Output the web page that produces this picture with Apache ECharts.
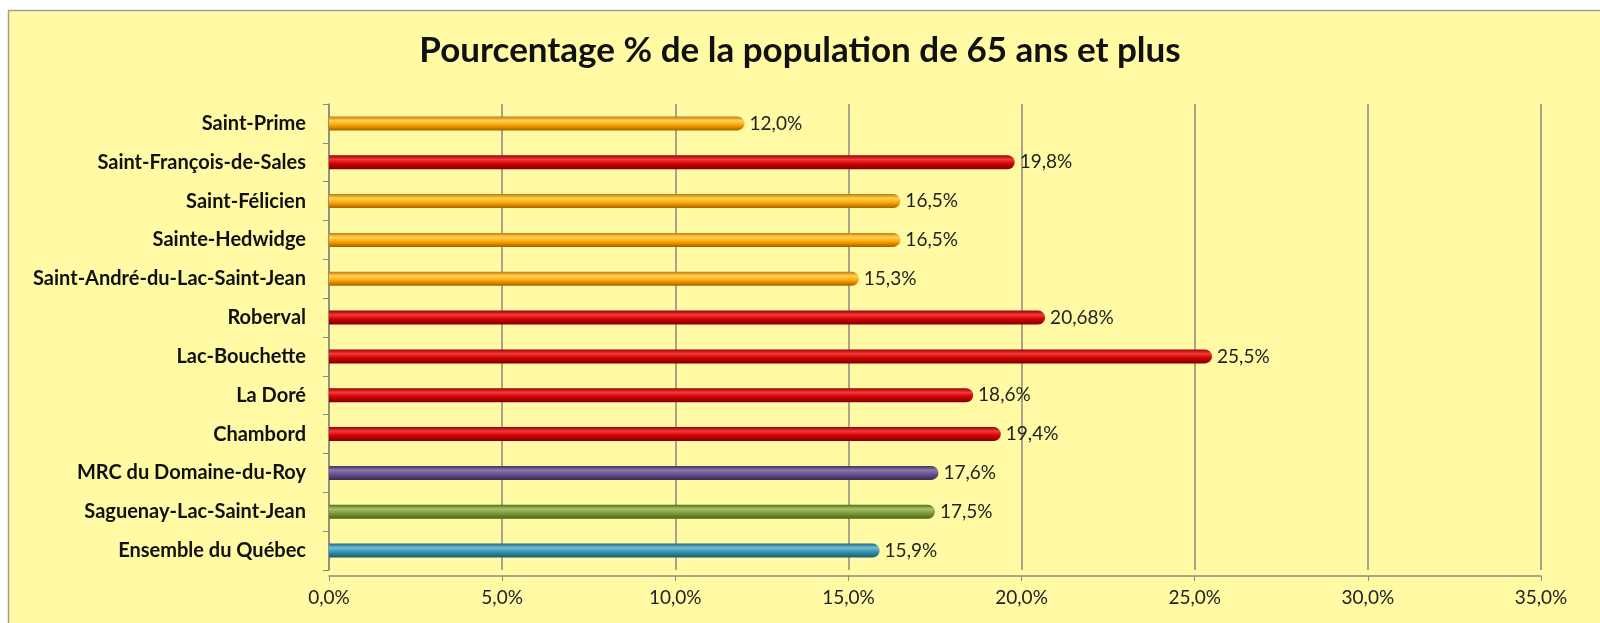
<!DOCTYPE html>
<html>
<head>
<meta charset="utf-8">
<script src="https://cdn.jsdelivr.net/npm/echarts@6/dist/echarts.min.js"></script>
<style>
html,body{margin:0;padding:0;background:#ffffff;}
#chart{width:1600px;height:623px;}
</style>
</head>
<body>
<div id="chart"></div>
<script>
// Data (top to bottom as displayed)
const categories = [
  'Saint-Prime',
  'Saint-François-de-Sales',
  'Saint-Félicien',
  'Sainte-Hedwidge',
  'Saint-André-du-Lac-Saint-Jean',
  'Roberval',
  'Lac-Bouchette',
  'La Doré',
  'Chambord',
  'MRC du Domaine-du-Roy',
  'Saguenay-Lac-Saint-Jean',
  'Ensemble du Québec'
];
const values = [12.0, 19.8, 16.5, 16.5, 15.3, 20.68, 25.5, 18.6, 19.4, 17.6, 17.5, 15.9];
const groups = ['o','r','o','o','o','r','r','r','r','p','g','b'];
const xTicks = [0, 5, 10, 15, 20, 25, 30, 35];

// Styles
const palette = {
  o: ['#c77a00', '#ffd25a', '#ffa800', '#a86200'],
  r: ['#9a0000', '#f03a3a', '#d40000', '#7a0000'],
  p: ['#3f2f5c', '#8d79ad', '#66508a', '#3a2a55'],
  g: ['#55701f', '#a7c266', '#7d9a3c', '#4b6419'],
  b: ['#1f6a80', '#6fbfd6', '#3590ab', '#1b5a6c']
};
function grad(c) {
  return new echarts.graphic.LinearGradient(0, 0, 0, 1, [
    {offset: 0, color: c[0]},
    {offset: 0.3, color: c[1]},
    {offset: 0.6, color: c[2]},
    {offset: 1, color: c[3]}
  ]);
}
function fmt(v) {
  const s = Number.isInteger(Math.round(v * 10 * 1000) / 1000) ? v.toFixed(1) : v.toFixed(2);
  return s.replace('.', ',') + '%';
}

const chart = echarts.init(document.getElementById('chart'), null, {renderer: 'canvas'});
const FONT = 'Lato, "Open Sans", sans-serif';

chart.setOption({
  backgroundColor: '#ffffff',
  animation: false,
  graphic: [{
    type: 'rect',
    z: -10,
    shape: {x: 8.5, y: 10.5, width: 1600, height: 620},
    style: {fill: '#fffaa3', stroke: '#9e9e9e', lineWidth: 1.5}
  }],
  title: {
    text: 'Pourcentage % de la population de 65 ans et plus',
    left: 'center',
    top: 28,
    textStyle: {fontFamily: FONT, fontWeight: 'bold', fontSize: 35, color: '#111'}
  },
  grid: {left: 329, right: 59, top: 104, height: 466},
  xAxis: {
    type: 'value',
    min: xTicks[0],
    max: xTicks[xTicks.length - 1],
    interval: 5,
    offset: 6,
    axisLine: {show: true, lineStyle: {color: '#8a8a80', width: 1.5}},
    axisTick: {show: true, length: 5, lineStyle: {color: '#8a8a80'}},
    axisLabel: {
      fontFamily: FONT, fontSize: 19, color: '#222', margin: 12,
      formatter: v => v.toFixed(1).replace('.', ',') + '%'
    },
    splitLine: {show: true, lineStyle: {color: '#8a8a80', width: 1.5}}
  },
  yAxis: {
    type: 'category',
    inverse: true,
    data: categories,
    offset: 5,
    axisLine: {show: true, lineStyle: {color: '#8a8a80', width: 1.5}},
    axisTick: {show: true, length: 6, lineStyle: {color: '#8a8a80'}},
    axisLabel: {fontFamily: FONT, fontWeight: 'bold', fontSize: 20, color: '#111', margin: 18}
  },
  series: [{
    type: 'bar',
    barWidth: 14,
    data: values.map((v, i) => ({
      value: v,
      itemStyle: {color: grad(palette[groups[i]]), borderRadius: [0, 7, 7, 0]}
    })),
    label: {
      show: true,
      position: 'right',
      distance: 5,
      fontFamily: FONT, fontSize: 19, color: '#222',
      formatter: p => fmt(p.value)
    }
  }]
});
</script>
</body>
</html>
